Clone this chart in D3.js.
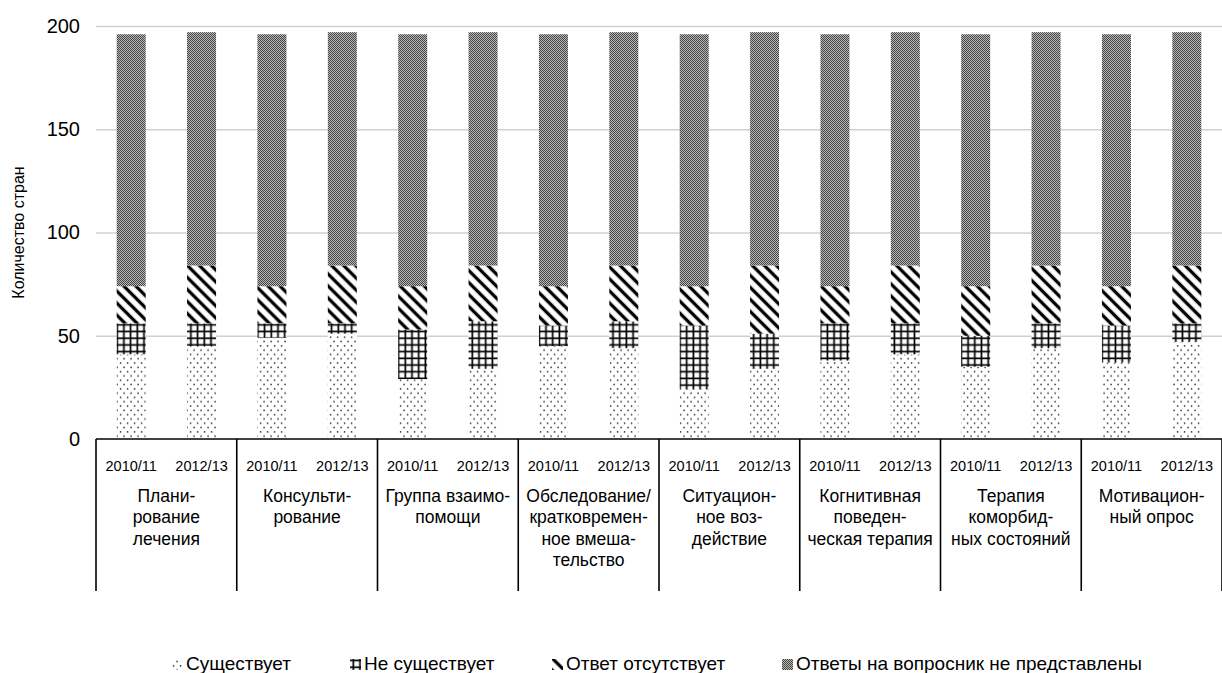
<!DOCTYPE html>
<html>
<head>
<meta charset="utf-8">
<script src="https://cdn.jsdelivr.net/npm/d3@7"></script>
<style>
  body { margin: 0; background: #fff; }
  text { font-family: "Liberation Sans", Arial, sans-serif; fill: #000; }
</style>
</head>
<body>
<svg id="chart" width="1222" height="673"></svg>
<script>
// categories (line breaks as in the source chart)
var categories = [
  ["Плани-", "рование", "лечения"],
  ["Консульти-", "рование"],
  ["Группа взаимо-", "помощи"],
  ["Обследование/", "кратковремен-", "ное вмеша-", "тельство"],
  ["Ситуацион-", "ное воз-", "действие"],
  ["Когнитивная", "поведен-", "ческая терапия"],
  ["Терапия", "коморбид-", "ных состояний"],
  ["Мотивацион-", "ный опрос"]
];
var years = ["2010/11", "2012/13"];
var seriesNames = ["Существует", "Не существует", "Ответ отсутствует", "Ответы на вопросник не представлены"];

// values, ordered category by category, 2010/11 then 2012/13
var existing    = [41, 45, 49, 51, 29, 34, 45, 44, 24, 34, 38, 41, 35, 44, 37, 47];
var notExisting = [15, 11,  7,  5, 24, 23, 10, 13, 31, 17, 18, 15, 15, 12, 18,  9];
var noAnswer    = [18, 28, 18, 28, 21, 27, 19, 27, 19, 33, 18, 28, 24, 28, 19, 28];
var notProvided = [122, 113, 122, 113, 122, 113, 122, 113, 122, 113, 122, 113, 122, 113, 122, 113];

var yTicks = [0, 50, 100, 150, 200];

var svg = d3.select("#chart");
var plotL = 96, plotR = 1222, plotT = 26, plotB = 439;

var x0 = d3.scaleBand().domain(d3.range(categories.length)).range([plotL, plotR]).padding(0);
var x1 = d3.scaleBand().domain(years).range([0, x0.bandwidth()]).paddingInner(0.588).paddingOuter(0.294);
var y = d3.scaleLinear().domain([0, 200]).range([plotB, plotT]);

// patterns
var defs = svg.append("defs");

var pDots = defs.append("pattern").attr("id", "p0").attr("patternUnits", "userSpaceOnUse")
  .attr("width", 7).attr("height", 8.6);
pDots.append("rect").attr("width", 7).attr("height", 8.6).attr("fill", "#fff");
pDots.append("circle").attr("cx", 1.6).attr("cy", 1.8).attr("r", 0.85).attr("fill", "#3a3a3a");
pDots.append("circle").attr("cx", 5.1).attr("cy", 6.1).attr("r", 0.85).attr("fill", "#3a3a3a");

var pGrid = defs.append("pattern").attr("id", "p1").attr("patternUnits", "userSpaceOnUse")
  .attr("width", 6.7).attr("height", 6.7);
pGrid.append("rect").attr("width", 6.7).attr("height", 6.7).attr("fill", "#fff");
pGrid.append("path").attr("d", "M3.3,0V6.7M0,3.3H6.7").attr("stroke", "#000").attr("stroke-width", 1.7);

var pDiag = defs.append("pattern").attr("id", "p2").attr("patternUnits", "userSpaceOnUse")
  .attr("width", 8.5).attr("height", 8.5).attr("patternTransform", "rotate(-45)");
pDiag.append("rect").attr("width", 8.5).attr("height", 8.5).attr("fill", "#fff");
pDiag.append("rect").attr("x", 2.6).attr("width", 3.3).attr("height", 8.5).attr("fill", "#000");

var pGrey = defs.append("pattern").attr("id", "p3").attr("patternUnits", "userSpaceOnUse")
  .attr("width", 2).attr("height", 2);
pGrey.append("rect").attr("width", 2).attr("height", 2).attr("fill", "#b8b8b8");
pGrey.append("rect").attr("width", 1).attr("height", 1).attr("fill", "#444");
pGrey.append("rect").attr("x", 1).attr("y", 1).attr("width", 1).attr("height", 1).attr("fill", "#444");

// gridlines
svg.append("g")
  .attr("transform", "translate(" + plotL + ",0)")
  .call(d3.axisLeft(y).tickValues(yTicks.slice(1)).tickSize(-(plotR - plotL)).tickFormat(""))
  .call(function(g) { g.select(".domain").remove(); })
  .selectAll("line").attr("stroke", "#d0d0d0").attr("stroke-width", 1.3);

// y tick labels
svg.append("g")
  .attr("transform", "translate(" + plotL + ",0)")
  .call(d3.axisLeft(y).tickValues(yTicks).tickSize(0).tickPadding(16))
  .call(function(g) { g.select(".domain").remove(); })
  .selectAll("text")
  .style("font-family", "'Liberation Sans', Arial, sans-serif")
  .style("font-size", "20px")
  .attr("fill", "#000");

svg.append("text")
  .attr("transform", "translate(20," + y(100) + ") rotate(-90)")
  .attr("text-anchor", "middle")
  .attr("dominant-baseline", "middle")
  .style("font-size", "16px")
  .text("Количество стран");

// stacked bars
var rows = d3.range(existing.length).map(function(i) {
  return {
    cat: Math.floor(i / years.length),
    year: years[i % years.length],
    s0: existing[i], s1: notExisting[i], s2: noAnswer[i], s3: notProvided[i]
  };
});
var layers = d3.stack().keys(["s0", "s1", "s2", "s3"])(rows);

svg.append("g").selectAll("g")
  .data(layers)
  .enter().append("g")
  .attr("fill", function(d, i) { return "url(#p" + i + ")"; })
  .selectAll("rect")
  .data(function(d) { return d; })
  .enter().append("rect")
  .attr("x", function(d) { return x0(d.data.cat) + x1(d.data.year); })
  .attr("width", x1.bandwidth())
  .attr("y", function(d) { return y(d[1]); })
  .attr("height", function(d) { return y(d[0]) - y(d[1]); });

// x axis line and group separators
svg.append("line")
  .attr("x1", plotL).attr("x2", plotR).attr("y1", plotB).attr("y2", plotB)
  .attr("stroke", "#000").attr("stroke-width", 1.6);

svg.append("g").selectAll("line")
  .data(d3.range(categories.length + 1))
  .enter().append("line")
  .attr("x1", function(i) { return plotL + i * x0.step(); })
  .attr("x2", function(i) { return plotL + i * x0.step(); })
  .attr("y1", plotB).attr("y2", 591)
  .attr("stroke", "#000").attr("stroke-width", 1.6);

// year labels
var yearLab = svg.append("g");
categories.forEach(function(c, ci) {
  years.forEach(function(yr) {
    yearLab.append("text")
      .attr("x", x0(ci) + x1(yr) + x1.bandwidth() / 2)
      .attr("y", 467)
      .attr("text-anchor", "middle")
      .attr("dominant-baseline", "middle")
      .style("font-size", "14.5px")
      .text(yr);
  });
});

// category labels
svg.append("g").selectAll("text")
  .data(categories)
  .enter().append("text")
  .attr("text-anchor", "middle")
  .style("font-size", "17.5px")
  .each(function(lines, ci) {
    d3.select(this).selectAll("tspan")
      .data(lines)
      .enter().append("tspan")
      .attr("x", x0(ci) + x0.bandwidth() / 2)
      .attr("y", function(l, k) { return 502 + k * 21.3; })
      .text(function(l) { return l; });
  });

// legend
var legendX = [172, 350, 552, 782];
var legend = svg.append("g").selectAll("g")
  .data(seriesNames)
  .enter().append("g")
  .attr("transform", function(d, i) { return "translate(" + legendX[i] + ",664)"; });

legend.append("rect")
  .attr("x", 0).attr("y", -5).attr("width", 11).attr("height", 11)
  .attr("fill", function(d, i) { return "url(#p" + i + ")"; });

legend.append("text")
  .attr("x", 14).attr("y", 1)
  .attr("dominant-baseline", "middle")
  .style("font-size", "19px")
  .text(function(d) { return d; });
</script>
</body>
</html>
